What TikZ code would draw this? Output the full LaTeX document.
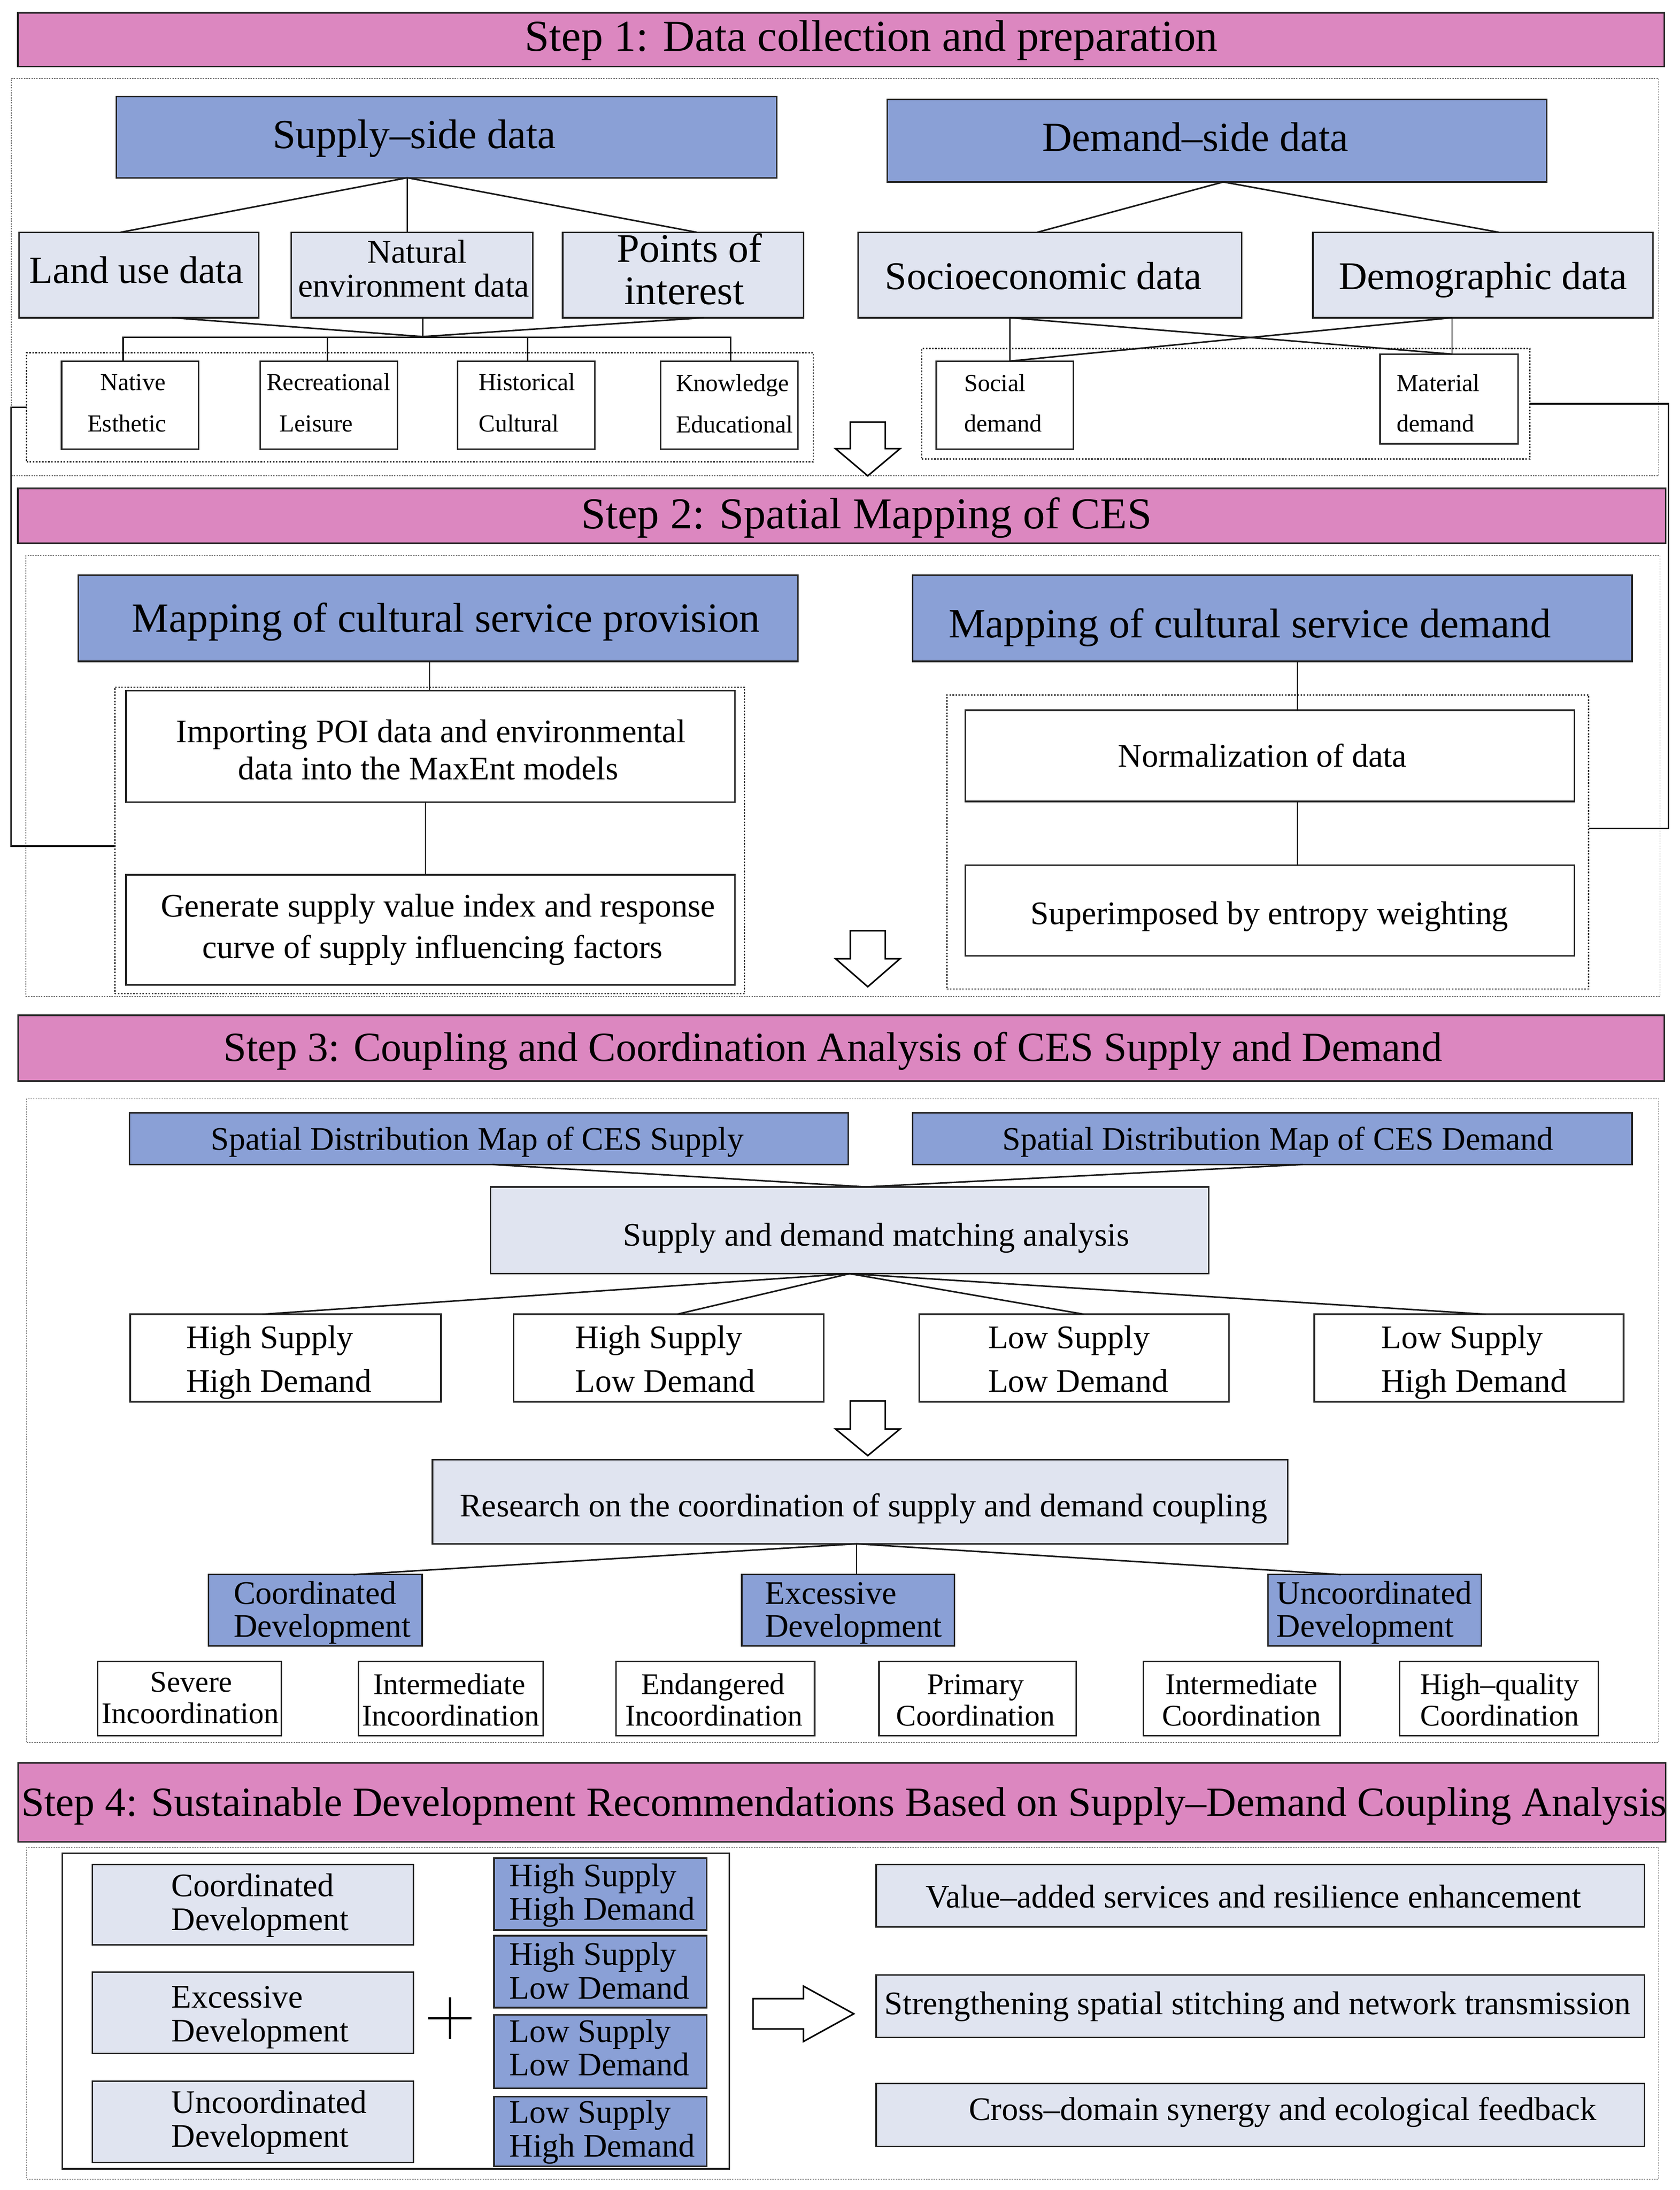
\documentclass[tikz,border=0pt]{standalone}
\usepackage{fontspec}
\setmainfont{Liberation Serif}
\usetikzlibrary{calc}
\definecolor{pinkh}{RGB}{220,135,192}
\definecolor{blueb}{RGB}{138,160,214}
\definecolor{lightb}{RGB}{224,228,240}
\newcommand\fsz[1]{\fontsize{#1}{#1}\selectfont}
\newcommand\bx[6]{%
 \pgfmathsetmacro\bxcx{(#3+#5)/2}\pgfmathsetmacro\bxcy{(#4+#6)/2}%
 \pgfmathsetmacro\bxw{#5-#3}\pgfmathsetmacro\bxh{#6-#4}%
 \node[#1,minimum width=\bxw pt,minimum height=\bxh pt] (#2) at (\bxcx,\bxcy) {};}
\newcommand\hdown[4]{\draw[hollow] (#1-12.5,#2) -- (#1+12.5,#2) -- (#1+12.5,#3) -- (#1+23,#3) -- (#1,#4) -- (#1-23,#3) -- (#1-12.5,#3) -- cycle;}
\tikzset{
 every node/.style={inner sep=0pt, outer sep=0pt},
 hdr/.style={draw=black!85, line width=1.2pt, fill=pinkh, rectangle},
 bluebox/.style={draw=black!85, line width=1.1pt, fill=blueb, rectangle},
 lightbox/.style={draw=black!85, line width=1.1pt, fill=lightb, rectangle},
 whitebox/.style={draw=black!85, line width=1.1pt, fill=white, rectangle},
 solidframe/.style={draw=black!85, line width=1.1pt, rectangle},
 frameout/.style={draw=black!55, line width=0.6pt, dash pattern=on 1pt off 0.8pt, rectangle},
 framein/.style={draw=black!85, line width=0.9pt, dash pattern=on 1.1pt off 1.1pt, rectangle},
 conn/.style={draw=black!90, line width=1.1pt},
 thinconn/.style={draw=black!90, line width=0.8pt},
 hollow/.style={draw=black, line width=1.1pt, fill=white, line join=miter},
 txt/.style={anchor=base, text=black},
 txtl/.style={anchor=base west, text=black},
}
\begin{document}
\begin{tikzpicture}[x=1pt,y=-1pt]
\fill[white] (0,0) rectangle (1200,1564.7);
\useasboundingbox (0,0) rectangle (1200,1564.7);

% ---------- frames ----------
\bx{frameout}{f1}{8}{56}{1185}{340}
\bx{frameout}{f2}{18.5}{397}{1186}{712}
\bx{frameout}{f3}{19}{785}{1185}{1245}
\bx{frameout}{f4}{19}{1320}{1185}{1557}

% ---------- headers ----------
\bx{hdr}{h1}{12.7}{9}{1189}{47.5}
\bx{hdr}{h2}{12.7}{349}{1190}{388}
\bx{hdr}{h3}{13}{725.5}{1189}{772.5}
\bx{hdr}{h4}{13}{1259.5}{1190}{1316}
\node[txt,font=\fsz{31.5}] (th1) at (622.5,36.4) {Step 1: Data collection and preparation};
\node[txt,font=\fsz{31.5}] (th2) at (619,377.8) {Step 2: Spatial Mapping of CES};
\node[txt,font=\fsz{29.6}] (th3) at (595,758) {Step 3: Coupling and Coordination Analysis of CES Supply and Demand};
\node[txt,font=\fsz{29.6}] (th4) at (603,1297.6) {Step 4: Sustainable Development Recommendations Based on Supply–Demand Coupling Analysis};

% ---------- step 1 ----------
\bx{bluebox}{sup}{83}{69}{555}{127}
\bx{bluebox}{dem}{634}{71}{1105}{130}
\bx{lightbox}{land}{13.5}{166}{185}{227}
\bx{lightbox}{nat}{208}{166}{380.6}{227}
\bx{lightbox}{poi}{402}{166}{574}{227}
\bx{lightbox}{soc}{613}{166}{887}{227}
\bx{lightbox}{demog}{938}{166}{1181}{227}
\bx{framein}{d1}{19}{252}{581}{330}
\bx{whitebox}{nativ}{44}{258}{142}{321}
\bx{whitebox}{recr}{186}{258}{284}{321}
\bx{whitebox}{hist}{327}{258}{425}{321}
\bx{whitebox}{know}{472}{258}{570}{321}
\bx{framein}{d2}{658.6}{249}{1093}{328}
\bx{whitebox}{socd}{669}{258}{767}{321}
\bx{whitebox}{matd}{986}{253}{1084.5}{317}

\node[txt,font=\fsz{29.5}] (tsup) at (296,106) {Supply–side data};
\node[txt,font=\fsz{29.5}] (tdem) at (854,108) {Demand–side data};
\node[txt,font=\fsz{27.5}] (tland) at (97.5,202.4) {Land use data};
\node[txt,font=\fsz{23.7}] (tnat1) at (298,188) {Natural};
\node[txt,font=\fsz{23.7}] (tnat2) at (295.6,212) {environment data};
\node[txt,font=\fsz{29}] (tpoi1) at (492.6,187.4) {Points of};
\node[txt,font=\fsz{29}] (tpoi2) at (489,217.4) {interest};
\node[txt,font=\fsz{28}] (tsoc) at (745.5,206.7) {Socioeconomic data};
\node[txt,font=\fsz{28}] (tdemog) at (1059.5,206.7) {Demographic data};

\node[txtl,font=\fsz{17.5}] (tn1) at (71.7,278.8) {Native};
\node[txtl,font=\fsz{17.5}] (tn2) at (62.5,308.4) {Esthetic};
\node[txtl,font=\fsz{17.5}] (tr1) at (190.5,278.8) {Recreational};
\node[txtl,font=\fsz{17.5}] (tr2) at (199.7,308.4) {Leisure};
\node[txtl,font=\fsz{17.5}] (thi1) at (342,278.8) {Historical};
\node[txtl,font=\fsz{17.5}] (thi2) at (342,308.4) {Cultural};
\node[txtl,font=\fsz{17.5}] (tk1) at (483,279.5) {Knowledge};
\node[txtl,font=\fsz{17.5}] (tk2) at (483,309) {Educational};
\node[txtl,font=\fsz{17.5}] (ts1) at (689,279.5) {Social};
\node[txtl,font=\fsz{17.5}] (ts2) at (689,308.4) {demand};
\node[txtl,font=\fsz{17.5}] (tm1) at (998,279.5) {Material};
\node[txtl,font=\fsz{17.5}] (tm2) at (998,308.4) {demand};

\draw[conn] (291,0 |- sup.south) -- (86,0 |- land.north);
\draw[conn] (291,0 |- sup.south) -- (291,0 |- nat.north);
\draw[conn] (291,0 |- sup.south) -- (498,0 |- poi.north);
\coordinate (j1) at (302,240.5);
\draw[conn] (123,0 |- land.south) -- (j1);
\draw[conn] (302,0 |- nat.south) -- (j1);
\draw[conn] (503,0 |- poi.south) -- (j1);
\draw[conn] (88,0 |- nativ.north) -- (88,241) -- (522,241) -- (522,0 |- know.north);
\draw[conn] (234,241) -- (234,0 |- recr.north);
\draw[conn] (377,241) -- (377,0 |- hist.north);

\draw[conn] (874,0 |- dem.south) -- (741,0 |- soc.north);
\draw[conn] (874,0 |- dem.south) -- (1071,0 |- demog.north);
\draw[thinconn] (721.5,0 |- soc.south) -- (721.5,0 |- socd.north);
\draw[conn] (721.5,0 |- soc.south) -- (1037.5,0 |- matd.north);
\draw[thinconn] (1037.5,0 |- demog.south) -- (1037.5,0 |- matd.north);
\draw[conn] (1037.5,0 |- demog.south) -- (721.5,0 |- socd.north);

% side connectors
\draw[conn] (d1.west) -- (8,0 |- d1.west) -- (8,604.5) -- (82,604.5);
\draw[conn] (d2.east) -- (1192,0 |- d2.east) -- (1192,592) -- (1135,592);

\hdown{620}{301.6}{320.6}{340}

% ---------- step 2 ----------
\bx{bluebox}{mprov}{56}{411}{570}{472.5}
\bx{bluebox}{mdem}{652}{411}{1166}{472.5}
\bx{framein}{d3}{82}{491}{532}{710}
\bx{whitebox}{imp}{90}{493.5}{525}{573}
\bx{whitebox}{gen}{90}{625}{525}{703.6}
\bx{framein}{d4}{676.5}{496.5}{1135}{706.6}
\bx{whitebox}{norm}{689.6}{507.5}{1125}{572.6}
\bx{whitebox}{supr}{689.6}{618}{1125}{683}
\draw[thinconn] (307,0 |- mprov.south) -- (307,0 |- imp.north);
\draw[thinconn] (304,0 |- imp.south) -- (304,0 |- gen.north);
\draw[thinconn] (927,0 |- mdem.south) -- (927,0 |- norm.north);
\draw[thinconn] (927,0 |- norm.south) -- (927,0 |- supr.north);

\node[txt,font=\fsz{29.7}] (tmp) at (318.7,451.7) {Mapping of cultural service provision};
\node[txt,font=\fsz{29.7}] (tmd) at (893,455.5) {Mapping of cultural service demand};
\node[txt,font=\fsz{23.5}] (timp1) at (308,530.5) {Importing POI data and environmental};
\node[txt,font=\fsz{23.5}] (timp2) at (306,557) {data into the MaxEnt models};
\node[txt,font=\fsz{23.5}] (tgen1) at (313,655) {Generate supply value index and response};
\node[txt,font=\fsz{23.5}] (tgen2) at (309,684.5) {curve of supply influencing factors};
\node[txt,font=\fsz{23.5}] (tnorm) at (902,547.8) {Normalization of data};
\node[txt,font=\fsz{23.5}] (tsupr) at (907,660.6) {Superimposed by entropy weighting};

\hdown{620}{665}{685}{705}

% ---------- step 3 ----------
\bx{bluebox}{smap}{92.6}{795}{606}{832}
\bx{bluebox}{dmap}{652}{795}{1166}{832}
\bx{lightbox}{match}{350.5}{848}{863.5}{910}
\bx{whitebox}{q1}{93}{939}{315}{1001.5}
\bx{whitebox}{q2}{367}{939}{588.6}{1001.5}
\bx{whitebox}{q3}{656.7}{939}{878}{1001.5}
\bx{whitebox}{q4}{939}{939}{1160}{1001.5}
\bx{lightbox}{res}{309}{1043}{920}{1103}
\bx{bluebox}{c1}{149}{1125}{301.6}{1176}
\bx{bluebox}{c2}{530}{1125}{682}{1176}
\bx{bluebox}{c3}{906}{1125}{1058.5}{1176}
\bx{whitebox}{e1}{69.6}{1187}{201}{1240}
\bx{whitebox}{e2}{256}{1187}{388}{1240}
\bx{whitebox}{e3}{440}{1187}{582}{1240}
\bx{whitebox}{e4}{628}{1187}{769}{1240}
\bx{whitebox}{e5}{817}{1187}{957.5}{1240}
\bx{whitebox}{e6}{1000}{1187}{1142}{1240}

\draw[conn] (352,0 |- smap.south) -- (618.5,0 |- match.north);
\draw[conn] (930.7,0 |- dmap.south) -- (618.5,0 |- match.north);
\draw[conn] (607,0 |- match.south) -- (187.5,0 |- q1.north);
\draw[conn] (607,0 |- match.south) -- (483.7,0 |- q2.north);
\draw[conn] (607,0 |- match.south) -- (774.6,0 |- q3.north);
\draw[conn] (607,0 |- match.south) -- (1061.6,0 |- q4.north);
\draw[conn] (612,0 |- res.south) -- (252.6,0 |- c1.north);
\draw[thinconn] (612,0 |- res.south) -- (612,0 |- c2.north);
\draw[conn] (612,0 |- res.south) -- (958,0 |- c3.north);

\node[txt,font=\fsz{23.5}] (tsmap) at (341,821.5) {Spatial Distribution Map of CES Supply};
\node[txt,font=\fsz{23.5}] (tdmap) at (913,821.5) {Spatial Distribution Map of CES Demand};
\node[txt,font=\fsz{23.5}] (tmatch) at (626,890) {Supply and demand matching analysis};
\node[txtl,font=\fsz{23.5}] (tq1a) at (133,963.5) {High Supply};
\node[txtl,font=\fsz{23.5}] (tq1b) at (133,994.5) {High Demand};
\node[txtl,font=\fsz{23.5}] (tq2a) at (411,963.5) {High Supply};
\node[txtl,font=\fsz{23.5}] (tq2b) at (411,994.5) {Low Demand};
\node[txtl,font=\fsz{23.5}] (tq3a) at (706,963.5) {Low Supply};
\node[txtl,font=\fsz{23.5}] (tq3b) at (706,994.5) {Low Demand};
\node[txtl,font=\fsz{23.5}] (tq4a) at (987,963.5) {Low Supply};
\node[txtl,font=\fsz{23.5}] (tq4b) at (987,994.5) {High Demand};
\node[txt,font=\fsz{23.5}] (tres) at (617,1083.6) {Research on the coordination of supply and demand coupling};
\node[txtl,font=\fsz{23.5}] (tc1a) at (167,1146) {Coordinated};
\node[txtl,font=\fsz{23.5}] (tc1b) at (167,1169.5) {Development};
\node[txtl,font=\fsz{23.5}] (tc2a) at (546.5,1146) {Excessive};
\node[txtl,font=\fsz{23.5}] (tc2b) at (546.5,1169.5) {Development};
\node[txtl,font=\fsz{23.5}] (tc3a) at (912,1146) {Uncoordinated};
\node[txtl,font=\fsz{23.5}] (tc3b) at (912,1169.5) {Development};
\node[txt,font=\fsz{21.5}] (te1a) at (136.6,1208.7) {Severe};
\node[txt,font=\fsz{21.5}] (te1b) at (136,1231.5) {Incoordination};
\node[txt,font=\fsz{21.5}] (te2a) at (321,1210.5) {Intermediate};
\node[txt,font=\fsz{21.5}] (te2b) at (322,1233) {Incoordination};
\node[txt,font=\fsz{21.5}] (te3a) at (509.5,1210.5) {Endangered};
\node[txt,font=\fsz{21.5}] (te3b) at (510,1233) {Incoordination};
\node[txt,font=\fsz{21.5}] (te4a) at (697,1210.5) {Primary};
\node[txt,font=\fsz{21.5}] (te4b) at (697,1233) {Coordination};
\node[txt,font=\fsz{21.5}] (te5a) at (887,1210.5) {Intermediate};
\node[txt,font=\fsz{21.5}] (te5b) at (887,1233) {Coordination};
\node[txt,font=\fsz{21.5}] (te6a) at (1071.5,1210.5) {High–quality};
\node[txt,font=\fsz{21.5}] (te6b) at (1071.5,1233) {Coordination};

\hdown{620}{1001}{1021}{1040}

% ---------- step 4 ----------
\bx{solidframe}{inner}{44.4}{1324}{521}{1549.6}
\bx{lightbox}{l1}{66}{1332}{295.4}{1389.5}
\bx{lightbox}{l2}{66}{1409}{295.4}{1467}
\bx{lightbox}{l3}{66}{1487}{295.4}{1545}
\bx{bluebox}{b1}{353}{1327.6}{505}{1379}
\bx{bluebox}{b2}{353}{1383}{505}{1434.4}
\bx{bluebox}{b3}{353}{1439.5}{505}{1492}
\bx{bluebox}{b4}{353}{1498}{505}{1547.6}
\bx{lightbox}{r1}{626}{1332}{1175}{1376.6}
\bx{lightbox}{r2}{626}{1411}{1175}{1455.6}
\bx{lightbox}{r3}{626}{1488.7}{1175}{1533.5}

\node[txtl,font=\fsz{23.5}] (tl1a) at (122.5,1355) {Coordinated};
\node[txtl,font=\fsz{23.5}] (tl1b) at (122.5,1379) {Development};
\node[txtl,font=\fsz{23.5}] (tl2a) at (122.5,1434.4) {Excessive};
\node[txtl,font=\fsz{23.5}] (tl2b) at (122.5,1458.6) {Development};
\node[txtl,font=\fsz{23.5}] (tl3a) at (122.5,1509.7) {Uncoordinated};
\node[txtl,font=\fsz{23.5}] (tl3b) at (122.5,1533.8) {Development};
\node[txtl,font=\fsz{23.5}] (tb1a) at (364,1348) {High Supply};
\node[txtl,font=\fsz{23.5}] (tb1b) at (364,1371.6) {High Demand};
\node[txtl,font=\fsz{23.5}] (tb2a) at (364,1404) {High Supply};
\node[txtl,font=\fsz{23.5}] (tb2b) at (364,1428) {Low Demand};
\node[txtl,font=\fsz{23.5}] (tb3a) at (364,1459) {Low Supply};
\node[txtl,font=\fsz{23.5}] (tb3b) at (364,1483) {Low Demand};
\node[txtl,font=\fsz{23.5}] (tb4a) at (364,1516.8) {Low Supply};
\node[txtl,font=\fsz{23.5}] (tb4b) at (364,1541) {High Demand};
\node[txt,font=\fsz{23.5}] (tr1) at (895.6,1363) {Value–added services and resilience enhancement};
\node[txtl,font=\fsz{23.5}] (tr2) at (632,1439.4) {Strengthening spatial stitching and network transmission};
\node[txt,font=\fsz{23.5}] (tr3) at (916.5,1514.8) {Cross–domain synergy and ecological feedback};

% plus sign
\draw[line width=1.8pt] (306,1442) -- (337,1442);
\draw[line width=1.8pt] (321.5,1427) -- (321.5,1457);
% big right arrow
\draw[hollow] (538,1428) -- (574,1428) -- (574,1419) -- (610,1438.8) -- (574,1458.6) -- (574,1449.6) -- (538,1449.6) -- cycle;
\end{tikzpicture}
\end{document}
